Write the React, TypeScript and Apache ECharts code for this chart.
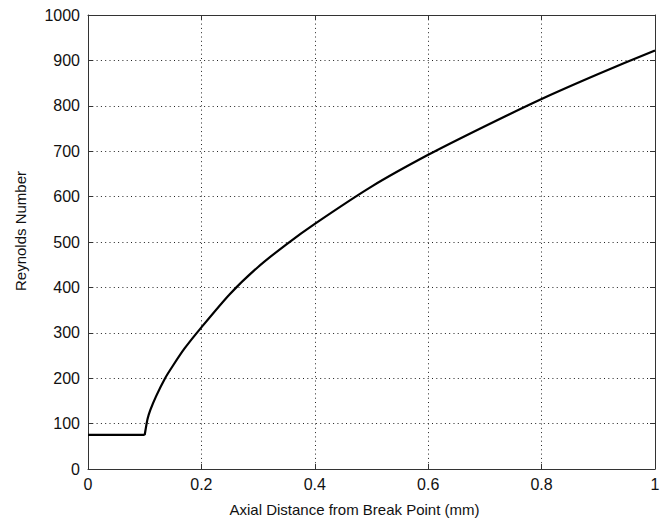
import React, { useEffect, useRef } from "react";
import * as echarts from "echarts";

// flat inlet segment
const flatX = [0, 0.05, 0.1];
const flatRe = [75, 75, 75];
// developing segment after the break point
const curveX = [0.1, 0.102, 0.105, 0.11, 0.12, 0.136, 0.15, 0.17, 0.2, 0.25, 0.3, 0.35, 0.4, 0.5, 0.6, 0.7, 0.8, 0.9, 1.0];
const curveRe = [75, 90, 110, 130, 160, 200, 228, 265, 312, 385, 445, 495, 540, 622, 692, 755, 815, 870, 922];

const xTicks = [0, 0.2, 0.4, 0.6, 0.8, 1];
const xAxisName = "Axial Distance from Break Point (mm)";
const yAxisName = "Reynolds Number";

export default function App() {
  const ref = useRef<HTMLDivElement>(null);
  useEffect(() => {
    if (!ref.current) return;
    const chart = echarts.init(ref.current, undefined, { renderer: "svg" });
    const font = "Liberation Sans, Arial, Helvetica, sans-serif";
    const axisColor = "#333";
    const gridLine = { show: true, lineStyle: { color: "#222", width: 1, type: [1, 3.3] as any } };
    const tick = { show: true, inside: true, length: 5, lineStyle: { color: axisColor } };
    const line = { show: true, onZero: false, lineStyle: { color: axisColor, width: 1 } };
    chart.setOption({
      animation: false,
      backgroundColor: "#fff",
      grid: { left: 88, top: 15, right: 10, bottom: 56, containLabel: false },
      xAxis: [
        {
          type: "value",
          min: 0,
          max: 1,
          interval: 0.2,
          name: xAxisName,
          nameLocation: "middle",
          nameGap: 33,
          nameTextStyle: { color: "#111", fontSize: 15, fontFamily: font, padding: [0, 34, 0, 0] },
          axisLine: line,
          axisTick: tick,
          axisLabel: {
            color: "#111",
            fontSize: 16,
            fontFamily: font,
            margin: 7,
            formatter: (v: number) => (xTicks.some((t) => Math.abs(t - v) < 1e-9) ? String(+v.toFixed(1)) : ""),
          },
          splitLine: gridLine,
        },
        {
          type: "value",
          position: "top",
          min: 0,
          max: 1,
          interval: 0.2,
          axisLine: line,
          axisTick: tick,
          axisLabel: { show: false },
          splitLine: { show: false },
        },
      ],
      yAxis: [
        {
          type: "value",
          min: 0,
          max: 1000,
          interval: 100,
          name: yAxisName,
          nameLocation: "middle",
          nameGap: 60,
          nameTextStyle: { color: "#111", fontSize: 15, fontFamily: font, padding: [0, 0, 0, 22] },
          axisLine: line,
          axisTick: tick,
          axisLabel: { color: "#111", fontSize: 16, fontFamily: font, margin: 8, formatter: (v: number) => String(v) },
          splitLine: gridLine,
        },
        {
          type: "value",
          position: "right",
          min: 0,
          max: 1000,
          interval: 100,
          axisLine: line,
          axisTick: tick,
          axisLabel: { show: false },
          splitLine: { show: false },
        },
      ],
      series: [
        {
          type: "line",
          data: flatX.map((x, i) => [x, flatRe[i]]),
          showSymbol: false,
          lineStyle: { color: "#000", width: 2.2 },
        },
        {
          type: "line",
          data: curveX.map((x, i) => [x, curveRe[i]]),
          showSymbol: false,
          smooth: 0.25,
          lineStyle: { color: "#000", width: 2.2 },
        },
      ],
    });
    return () => chart.dispose();
  }, []);
  return <div ref={ref} style={{ position: "absolute", left: 0, top: 0, width: 665, height: 525 }} />;
}
